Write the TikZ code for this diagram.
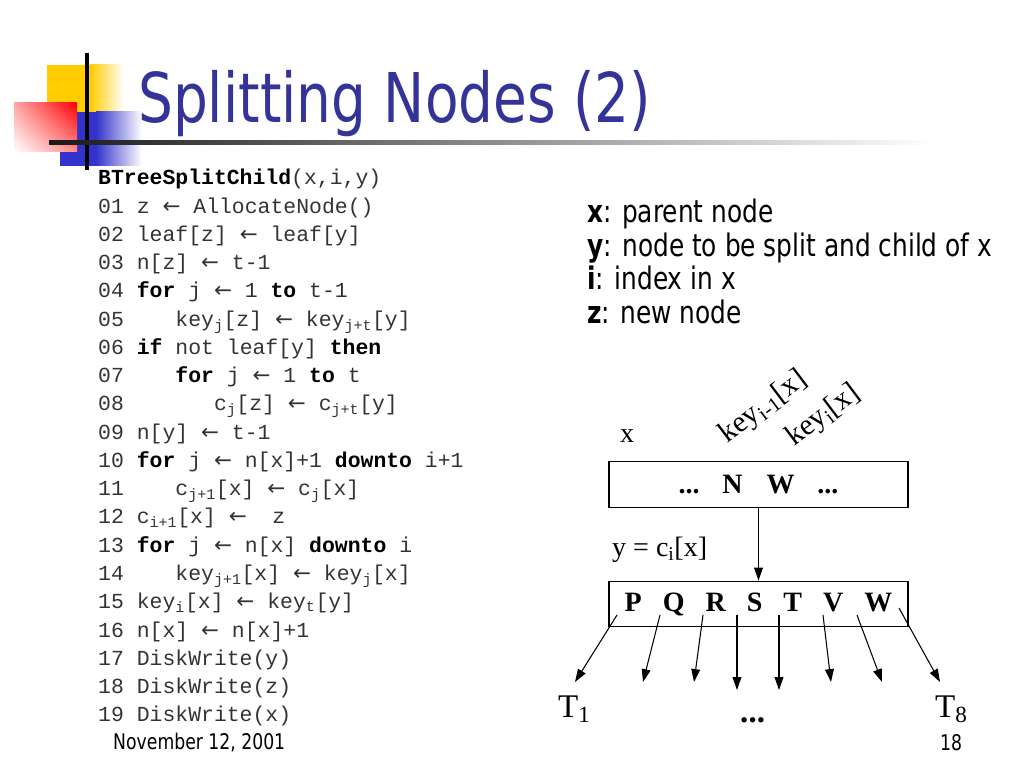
\documentclass[tikz,border=0pt]{standalone}
\usepackage{fontspec}
\setmainfont{DejaVu Sans}[FakeStretch=0.8]
\setmonofont{Liberation Mono}
\newfontfamily\timesfont{Liberation Serif}
\newfontfamily\arrowfont{DejaVu Sans}
\usepackage{tikz}
\usetikzlibrary{arrows.meta, positioning, shadings}
\definecolor{titleblue}{RGB}{51,51,153}
\definecolor{logoyellow}{RGB}{255,204,0}
\definecolor{logoblue}{RGB}{51,51,204}
\newcommand{\getsarrow}{{\arrowfont ←}}
\newcommand{\kw}[1]{\textbf{\color{black}#1}}

\begin{document}
\begin{tikzpicture}[x=0.03cm, y=-0.03cm,
	code/.style={anchor=base west, inner sep=0, text=black!80,
		font=\ttfamily\fontsize{18.3}{20}\selectfont},
	expl/.style={anchor=base west, inner sep=0, font=\fontsize{26.5}{30}\selectfont},
	foot/.style={anchor=base west, inner sep=0, font=\fontsize{18.4}{20}\selectfont},
	lbl/.style={anchor=base west, inner sep=0, font=\timesfont\fontsize{23.9}{26}\selectfont},
	keylbl/.style={anchor=base west, inner sep=0, rotate=37,
		font=\timesfont\fontsize{25.5}{28}\selectfont},
	tlbl/.style={anchor=base west, inner sep=0, font=\timesfont\fontsize{28.2}{30}\selectfont},
	keybox/.style={draw, line width=1pt, inner sep=0, minimum width=8.97cm,
		minimum height=1.37cm, font=\timesfont\bfseries\fontsize{23.9}{26}\selectfont},
	ptr/.style={-{Triangle[length=11pt,width=7.5pt]}, line width=0.9pt}]
	\useasboundingbox (0,0) rectangle (1024,768);

	% logo
	\fill[logoyellow] (47,65) rectangle (90,142);
	\shade[left color=logoyellow, right color=white] (90,65) rectangle (124,142);
	\fill[logoblue] (60,112) rectangle (96,166);
	\shade[left color=logoblue, right color=white] (96,112) rectangle (142,166);
	\shade[upper left=red!35, upper right=red, lower left=white, lower right=red!45]
		(14,103) rectangle (77,152);
	\draw[line width=2.6pt] (87,53) -- (87,170);
	\shade[left color=black!90, right color=white] (49,140.5) rectangle (935,145);

	\node[anchor=base west, inner sep=0, text=titleblue,
		font=\fontsize{58.6}{64}\selectfont] (title) at (138,123) {Splitting Nodes (2)};

	% pseudocode
	\node[code] (l0)  at (98,185)    {\kw{BTreeSplitChild}(x,i,y)};
	\node[code] (l1)  at (98,213.25) {01 z \getsarrow{} AllocateNode()};
	\node[code] (l2)  at (98,241.5)  {02 leaf[z] \getsarrow{} leaf[y]};
	\node[code] (l3)  at (98,269.75) {03 n[z] \getsarrow{} t-1};
	\node[code] (l4)  at (98,298)    {04 \kw{for} j \getsarrow{} 1 \kw{to} t-1};
	\node[code] (l5)  at (98,326.25) {05~~~~key\textsubscript{j}[z] \getsarrow{} key\textsubscript{j+t}[y]};
	\node[code] (l6)  at (98,354.5)  {06 \kw{if} not leaf[y] \kw{then}};
	\node[code] (l7)  at (98,382.75) {07~~~~\kw{for} j \getsarrow{} 1 \kw{to} t};
	\node[code] (l8)  at (98,411)    {08~~~~~~~c\textsubscript{j}[z] \getsarrow{} c\textsubscript{j+t}[y]};
	\node[code] (l9)  at (98,439.25) {09 n[y] \getsarrow{} t-1};
	\node[code] (l10) at (98,467.5)  {10 \kw{for} j \getsarrow{} n[x]+1 \kw{downto} i+1};
	\node[code] (l11) at (98,495.75) {11~~~~c\textsubscript{j+1}[x] \getsarrow{} c\textsubscript{j}[x]};
	\node[code] (l12) at (98,524)    {12 c\textsubscript{i+1}[x] \getsarrow{}~ z};
	\node[code] (l13) at (98,552.25) {13 \kw{for} j \getsarrow{} n[x] \kw{downto} i};
	\node[code] (l14) at (98,580.5)  {14~~~~key\textsubscript{j+1}[x] \getsarrow{} key\textsubscript{j}[x]};
	\node[code] (l15) at (98,608.75) {15 key\textsubscript{i}[x] \getsarrow{} key\textsubscript{t}[y]};
	\node[code] (l16) at (98,637)    {16 n[x] \getsarrow{} n[x]+1};
	\node[code] (l17) at (98,665.25) {17 DiskWrite(y)};
	\node[code] (l18) at (98,693.5)  {18 DiskWrite(z)};
	\node[code] (l19) at (98,721.75) {19 DiskWrite(x)};

	% legend
	\node[expl] (ex) at (587,223)   {\textbf{x}: parent node};
	\node[expl] (ey) at (587,256.5) {\textbf{y}: node to be split and child of x};
	\node[expl] (ei) at (587,290)   {\textbf{i}: index in x};
	\node[expl] (ez) at (587,323.5) {\textbf{z}: new node};

	% tree
	\node[lbl] (xlbl) at (620,443) {x};
	\node[keylbl] (kprev) at (727,444) {key\textsubscript{i-1}[x]};
	\node[keylbl] (kcur) at (794,447) {key\textsubscript{i}[x]};
	\node[keybox] (xnode) at (758.5,484.5) {...\hspace{0.82em}N\hspace{0.85em}W\hspace{0.82em}...};
	\node[lbl] (ylbl) at (612,556) {y = c\textsubscript{i}[x]};
	\node[keybox] (ynode) at (758.5,604) {P\hspace{0.75em}Q\hspace{0.75em}R\hspace{0.75em}S\hspace{0.75em}T\hspace{0.75em}V\hspace{0.75em}W};
	\draw[ptr] (xnode.south) -- (ynode.north);

	\foreach \i/\sx/\sy/\ex/\ey in {1/617/615/575/682, 2/660/615/643/682,
			3/703/615/694/682, 4/737/615/737/690, 5/779/615/779/690,
			6/823/615/831/682, 7/857/615/882/682, 8/899/608/940/682}{
		\coordinate (p\i) at (\sx,\sy);
		\coordinate (c\i) at (\ex,\ey);
		\draw[ptr] (p\i) -- (c\i);
	}

	\node[tlbl] (t1) at (558,717) {T\textsubscript{1}};
	\node[tlbl] (tdots) at (740,722) {\textbf{...}};
	\node[tlbl] (t8) at (935,717) {T\textsubscript{8}};

	% footer
	\node[foot] (date) at (113,749) {November 12, 2001};
	\node[foot] (page) at (940,750) {18};
\end{tikzpicture}
\end{document}
